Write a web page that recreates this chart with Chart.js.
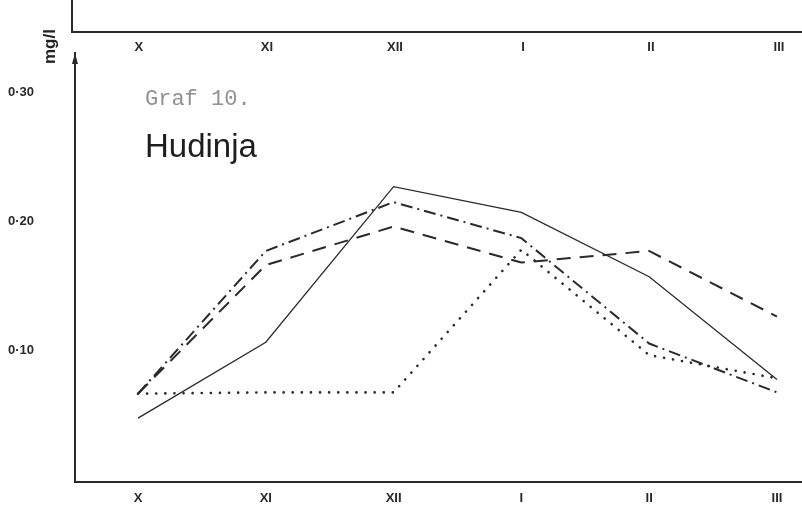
<!DOCTYPE html>
<html>
<head>
<meta charset="utf-8">
<script src="https://cdn.jsdelivr.net/npm/chart.js@4"></script>
<style>
    html, body { margin: 0; padding: 0; background: #fff; }
    #page { position: relative; width: 802px; height: 508px; overflow: hidden; }
    #page canvas { position: absolute; left: 0; }
    .note { position: absolute; white-space: nowrap; line-height: 1; }
    #grafLabel { left: 145px; top: 87px; font: 22px 'Liberation Mono', monospace; color: #909090; }
    #riverLabel { left: 145px; top: 127px; font: 33px 'Liberation Sans', sans-serif; color: #1e1e1e; }
    #unitLabel { left: 40px; top: 64px; font: bold 17px 'Liberation Sans', sans-serif; color: #222;
                 transform: rotate(-90deg); transform-origin: left top; }
</style>
</head>
<body>
<div id="page">
    <canvas id="topStrip" width="802" height="60" style="top:0"></canvas>
    <canvas id="mainChart" width="802" height="508" style="top:0"></canvas>
    <div class="note" id="grafLabel">Graf 10.</div>
    <div class="note" id="riverLabel">Hudinja</div>
    <div class="note" id="unitLabel">mg/l</div>
</div>

<script>
// --- DATA ---
const months = ['X', 'XI', 'XII', 'I', 'II', 'III'];
const solidSeries = [0.047, 0.106, 0.227, 0.207, 0.157, 0.077];
const dashDotSeries = [0.066, 0.177, 0.215, 0.187, 0.105, 0.067];
const dashedSeries = [0.066, 0.166, 0.196, 0.168, 0.177, 0.126];
const dottedSeries = [0.066, 0.067, 0.067, 0.178, 0.096, 0.078];
const yTickValues = [0.1, 0.2, 0.3];

const INK = '#2a2a2a';
const tickFont = { family: "'Liberation Sans', sans-serif", size: 13, weight: 'bold' };

// turn a series into {x, y} points on the month index
function toPoints(series) {
    return series.map((v, i) => ({ x: i, y: v }));
}

function monthTicks(scale) {
    scale.ticks = months.map((m, i) => ({ value: i }));
}

// --- ARROW ON TOP OF THE Y AXIS ---
const axisArrow = {
    id: 'axisArrow',
    afterDraw(chart) {
        const ctx = chart.ctx;
        const x = chart.chartArea.left;
        const y = chart.chartArea.top;
        ctx.save();
        ctx.fillStyle = INK;
        ctx.beginPath();
        ctx.moveTo(x, y);
        ctx.lineTo(x - 3, y + 11);
        ctx.lineTo(x + 3, y + 11);
        ctx.closePath();
        ctx.fill();
        ctx.restore();
    }
};

// --- TOP STRIP (bottom edge of the previous graph) ---
new Chart(document.getElementById('topStrip'), {
    type: 'line',
    data: { datasets: [] },
    options: {
        responsive: false,
        animation: false,
        layout: { padding: { left: 0, right: 0, top: 0, bottom: 0 } },
        plugins: { legend: { display: false }, tooltip: { enabled: false } },
        scales: {
            x: {
                type: 'linear',
                min: -0.523,
                max: 5.18,
                afterBuildTicks: monthTicks,
                afterFit: s => { s.height = 28; },
                grid: { display: false, drawTicks: false },
                border: { display: true, color: INK, width: 2 },
                ticks: { autoSkip: false, maxRotation: 0, padding: 8, color: INK, font: tickFont,
                         callback: v => months[v] }
            },
            y: {
                min: 0,
                max: 1,
                afterFit: s => { s.width = 72; },
                grid: { display: false, drawTicks: false },
                border: { display: true, color: INK, width: 2 },
                ticks: { display: false }
            }
        }
    }
});

// --- MAIN GRAPH ---
new Chart(document.getElementById('mainChart'), {
    type: 'line',
    data: {
        datasets: [
            { data: toPoints(solidSeries), borderColor: INK, borderWidth: 1.3 },
            { data: toPoints(dashDotSeries), borderColor: INK, borderWidth: 2, borderDash: [12, 5, 2, 5] },
            { data: toPoints(dashedSeries), borderColor: INK, borderWidth: 2, borderDash: [14, 9] },
            { data: toPoints(dottedSeries), borderColor: INK, borderWidth: 2.6, borderDash: [0.1, 9],
              borderCapStyle: 'round' }
        ]
    },
    options: {
        responsive: false,
        animation: false,
        layout: { padding: { left: 8, right: 0, top: 53, bottom: 0 } },
        plugins: { legend: { display: false }, tooltip: { enabled: false } },
        elements: { point: { radius: 0 }, line: { tension: 0, fill: false } },
        scales: {
            x: {
                type: 'linear',
                min: -0.493,
                max: 5.196,
                afterBuildTicks: monthTicks,
                afterFit: s => { s.height = 26; },
                grid: { display: false, drawTicks: false },
                border: { display: true, color: INK, width: 2 },
                ticks: { autoSkip: false, maxRotation: 0, padding: 9, color: INK, font: tickFont,
                         callback: v => months[v] }
            },
            y: {
                min: -0.0027,
                max: 0.331,
                afterBuildTicks: s => { s.ticks = yTickValues.map(v => ({ value: v })); },
                afterFit: s => { s.width = 67; },
                grid: { display: false, drawTicks: false },
                border: { display: true, color: INK, width: 2 },
                ticks: { crossAlign: 'far', padding: 0, color: INK,
                         font: { family: "'Liberation Sans', sans-serif", size: 13, weight: 'bold' },
                         callback: v => v.toFixed(2).replace('.', '·') }
            }
        }
    },
    plugins: [axisArrow]
});
</script>
</body>
</html>
